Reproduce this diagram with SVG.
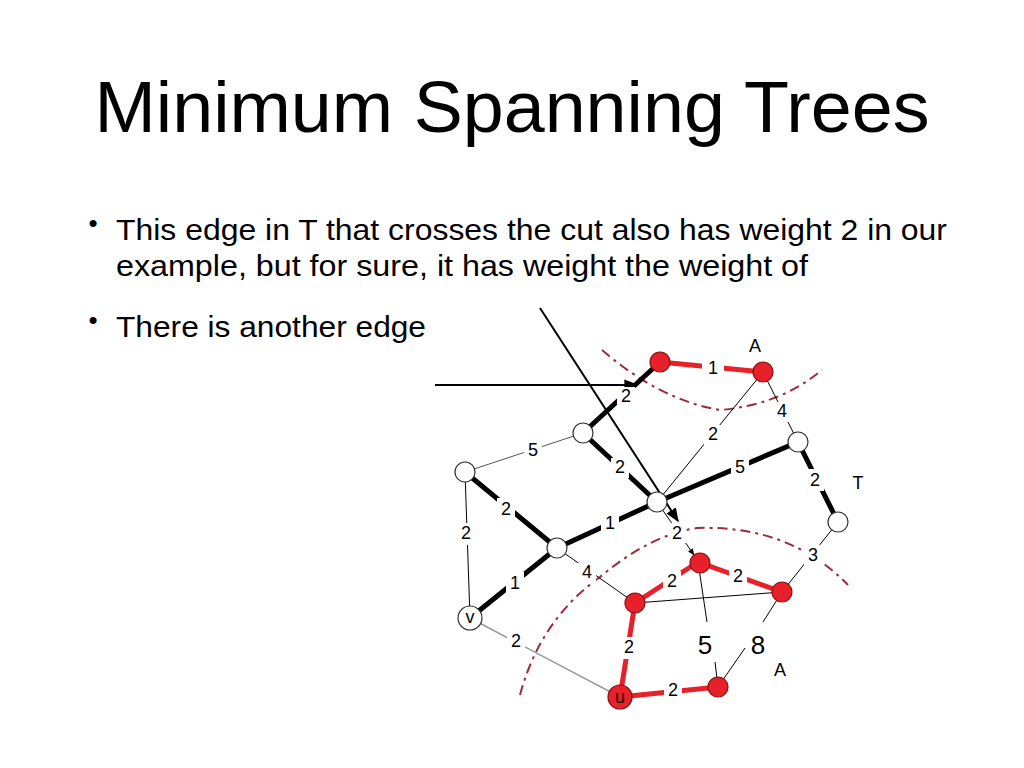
<svg xmlns="http://www.w3.org/2000/svg" width="1024" height="768" viewBox="0 0 1024 768">
<defs>
<marker id="ah" viewBox="0 0 10 10" refX="9" refY="5" markerWidth="7" markerHeight="7" orient="auto"><path d="M0,1 L10,5 L0,9 z" fill="#000"/></marker>
<style>
text{font-family:"Liberation Sans",Arial,sans-serif;fill:#000}
.t{font-size:29px}
.b{font-size:26px;text-anchor:middle}
.l{font-size:18px;text-anchor:middle;dominant-baseline:central}
.thin{stroke:#000;stroke-width:1;fill:none}
.thick{stroke:#000;stroke-width:5;fill:none}
.red{stroke:#e8202a;stroke-width:5;fill:none}
.cut{stroke:#a0283a;stroke-width:2;fill:none;stroke-dasharray:10,5,3,5}
.w{fill:#fff;stroke:#333;stroke-width:1.2}
.r{fill:#e8202a;stroke:#8a1010;stroke-width:1.2}
.lb{fill:#fff}
</style>
</defs>
<rect width="1024" height="768" fill="#fff"/>
<text x="512" y="132" text-anchor="middle" style="font-size:72px" textLength="835" lengthAdjust="spacingAndGlyphs">Minimum Spanning Trees</text>
<text x="93" y="232" class="b">•</text>
<text x="116" y="240" class="t" textLength="831" lengthAdjust="spacingAndGlyphs">This edge in T that crosses the cut also has weight 2 in our</text>
<text x="116" y="276" class="t" textLength="692" lengthAdjust="spacingAndGlyphs">example, but for sure, it has weight  the weight of</text>
<text x="93" y="329" class="b">•</text>
<text x="116" y="337" class="t" textLength="310" lengthAdjust="spacingAndGlyphs">There is another edge</text>
<g id="cuts">
<path class="cut" d="M602,350 Q660,400 720,410 Q780,405 822,370"/>
<path class="cut" d="M520,695 Q540,620 600,577 Q650,535 697,528 Q790,525 848,585"/>
</g>
<g id="connectors">
<line class="red" x1="660" y1="362" x2="763" y2="372"/>
<line class="thick" x1="660" y1="362" x2="583" y2="433"/>
<line class="thin" x1="763" y1="372" x2="798" y2="442"/>
<line class="thin" x1="763" y1="372" x2="657" y2="502"/>
<line class="thin" x1="583" y1="433" x2="465" y2="472" style="stroke:#555"/>
<line class="thick" x1="583" y1="433" x2="657" y2="502"/>
<line class="thick" x1="657" y1="502" x2="798" y2="442"/>
<line class="thick" x1="798" y1="442" x2="838" y2="522"/>
<line class="thick" x1="465" y1="472" x2="557" y2="548"/>
<line class="thin" x1="465" y1="472" x2="470" y2="618"/>
<line class="thick" x1="557" y1="548" x2="657" y2="502"/>
<line class="thick" x1="470" y1="618" x2="557" y2="548"/>
<line class="thin" x1="557" y1="548" x2="635" y2="603"/>
<line class="thin" x1="657" y1="502" x2="694" y2="555" marker-end="url(#ah)"/>
<line class="red" x1="698" y1="562" x2="635" y2="603"/>
<line class="red" x1="698" y1="562" x2="782" y2="592"/>
<line class="thin" x1="635" y1="603" x2="782" y2="592"/>
<line class="thin" x1="698" y1="562" x2="707" y2="622"/>
<line class="thin" x1="782" y1="592" x2="838" y2="522"/>
<line class="thin" x1="782" y1="592" x2="763" y2="622"/>
<line class="thin" x1="745" y1="648" x2="718" y2="687"/>
<line class="thin" x1="715" y1="662" x2="718" y2="687"/>
<line class="red" x1="635" y1="603" x2="620" y2="697"/>
<line class="red" x1="620" y1="697" x2="718" y2="687"/>
<line class="thin" x1="470" y1="618" x2="620" y2="697" style="stroke:#999;stroke-width:1.5"/>
<line class="thin" x1="435" y1="385" x2="637" y2="385" style="stroke-width:2" marker-end="url(#ah)"/>
<line class="thin" x1="540" y1="308" x2="678" y2="521" style="stroke-width:2" marker-end="url(#ah)"/>
</g>
<g id="labels">
<rect class="lb" x="702" y="358" width="22" height="20"/><text class="l" x="713" y="368">1</text>
<rect class="lb" x="617" y="387" width="18" height="20"/><text class="l" x="626" y="396">2</text>
<rect class="lb" x="773" y="402" width="18" height="20"/><text class="l" x="782" y="411">4</text>
<rect class="lb" x="704" y="425" width="18" height="20"/><text class="l" x="713" y="434">2</text>
<rect class="lb" x="524" y="440" width="18" height="20"/><text class="l" x="533" y="450">5</text>
<rect class="lb" x="611" y="458" width="18" height="20"/><text class="l" x="620" y="467">2</text>
<rect class="lb" x="731" y="456" width="18" height="22"/><text class="l" x="740" y="467">5</text>
<rect class="lb" x="806" y="469" width="18" height="22"/><text class="l" x="815" y="480">2</text>
<text class="l" x="858" y="483">T</text>
<rect class="lb" x="497" y="498" width="18" height="22"/><text class="l" x="506" y="509">2</text>
<rect class="lb" x="456" y="523" width="18" height="22"/><text class="l" x="466" y="533">2</text>
<rect class="lb" x="601" y="512" width="18" height="22"/><text class="l" x="610" y="523">1</text>
<rect class="lb" x="506" y="572" width="18" height="22"/><text class="l" x="515" y="583">1</text>
<rect class="lb" x="578" y="563" width="18" height="20"/><text class="l" x="587" y="572">4</text>
<rect class="lb" x="668" y="523" width="18" height="20"/><text class="l" x="677" y="533">2</text>
<rect class="lb" x="663" y="571" width="18" height="22"/><text class="l" x="672" y="581">2</text>
<rect class="lb" x="729" y="566" width="18" height="22"/><text class="l" x="738" y="576">2</text>
<rect class="lb" x="804" y="545" width="18" height="20"/><text class="l" x="813" y="555">3</text>
<rect class="lb" x="620" y="637" width="18" height="22"/><text class="l" x="629" y="647">2</text>
<rect class="lb" x="664" y="680" width="18" height="22"/><text class="l" x="673" y="690">2</text>
<rect class="lb" x="507" y="631" width="18" height="22"/><text class="l" x="516" y="641">2</text>
<text class="l" x="705" y="645" style="font-size:26px">5</text>
<text class="l" x="758" y="645" style="font-size:26px">8</text>
<text class="l" x="755" y="346">A</text>
<text class="l" x="780" y="670">A</text>
</g>
<g id="n_r1"><circle class="r" cx="660" cy="362" r="10"/></g>
<g id="n_r2"><circle class="r" cx="763" cy="372" r="10"/></g>
<g id="n_w1"><circle class="w" cx="583" cy="433" r="10"/></g>
<g id="n_wl"><circle class="w" cx="465" cy="472" r="10"/></g>
<g id="n_wc"><circle class="w" cx="657" cy="502" r="10"/></g>
<g id="n_wrt"><circle class="w" cx="798" cy="442" r="10"/></g>
<g id="n_wr"><circle class="w" cx="838" cy="522" r="10"/></g>
<g id="n_wm"><circle class="w" cx="557" cy="548" r="10"/></g>
<g id="n_v"><circle class="w" cx="470" cy="618" r="12"/><text class="l" x="470" y="617">v</text></g>
<g id="n_r3"><circle class="r" cx="700" cy="563" r="10"/></g>
<g id="n_r4"><circle class="r" cx="635" cy="603" r="10"/></g>
<g id="n_r5"><circle class="r" cx="782" cy="592" r="10"/></g>
<g id="n_u"><circle class="r" cx="620" cy="697" r="12"/><text class="l" x="620" y="697">u</text></g>
<g id="n_r6"><circle class="r" cx="718" cy="687" r="10"/></g>
</svg>
